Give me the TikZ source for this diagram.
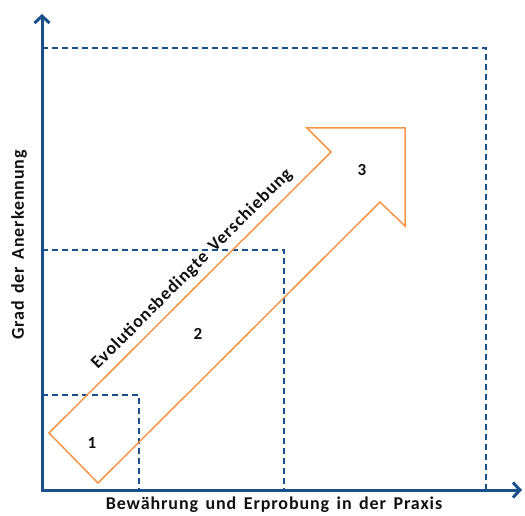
\documentclass[tikz,border=0pt]{standalone}
\usepackage{fontspec}
\setmainfont{Carlito}
\newfontfamily\labfont[LetterSpace=5,WordSpace=1.5]{Carlito}
\usetikzlibrary{arrows.meta,positioning}
\definecolor{axisblue}{HTML}{1B4F8C}
\definecolor{shift}{HTML}{F79646}
\definecolor{ink}{HTML}{111111}

\begin{document}
\begin{tikzpicture}[x=1pt,y=-1pt,
  axis/.style={draw=axisblue,line width=3pt,{Straight Barb[length=7pt,width=15pt,line width=3pt]}-{Straight Barb[length=7pt,width=15pt,line width=3pt]}},
  stage/.style={draw=axisblue,line width=1.4pt,dash pattern=on 6pt off 4pt},
  shiftarrow/.style={draw=shift,line width=1.5pt,line join=miter},
  lab/.style={font=\labfont\bfseries\fontsize{18}{21}\selectfont,text=ink,inner sep=0pt},
  num/.style={font=\bfseries\fontsize{17}{20}\selectfont,text=ink,inner sep=0pt}]
\useasboundingbox (0,0) rectangle (525,516);
% axes
\coordinate (origin) at (42,490);
\coordinate (ytip) at (42,14);
\coordinate (xtip) at (522,490);
\draw[axis] (ytip) |- (xtip);
\node[lab,rotate=90] (ylab) at (19,245) {Grad der Anerkennung};
\node[lab] (xlab) at (274,505) {Bewährung und Erprobung in der Praxis};
% stages
\coordinate (s1) at (139,395);
\coordinate (s2) at (284,250);
\coordinate (s3) at (486,48);
\draw[stage] (origin |- s1) -| (s1 |- origin);
\draw[stage] (origin |- s2) -| (s2 |- origin);
\draw[stage] (origin |- s3) -| (s3 |- origin);
% shift arrow
\draw[shiftarrow] (49,433) -- (98,483) -- (380,202) -- (405,226)
  -- (405,128) -- (307,128) -- (331,152) -- cycle;
\node[lab,rotate=45] (shiftlab) at (192,269) {Evolutionsbedingte Verschiebung};
\node[num] (n1) at (92,443) {1};
\node[num] (n2) at (198,334) {2};
\node[num] (n3) at (362,170) {3};
\end{tikzpicture}
\end{document}
